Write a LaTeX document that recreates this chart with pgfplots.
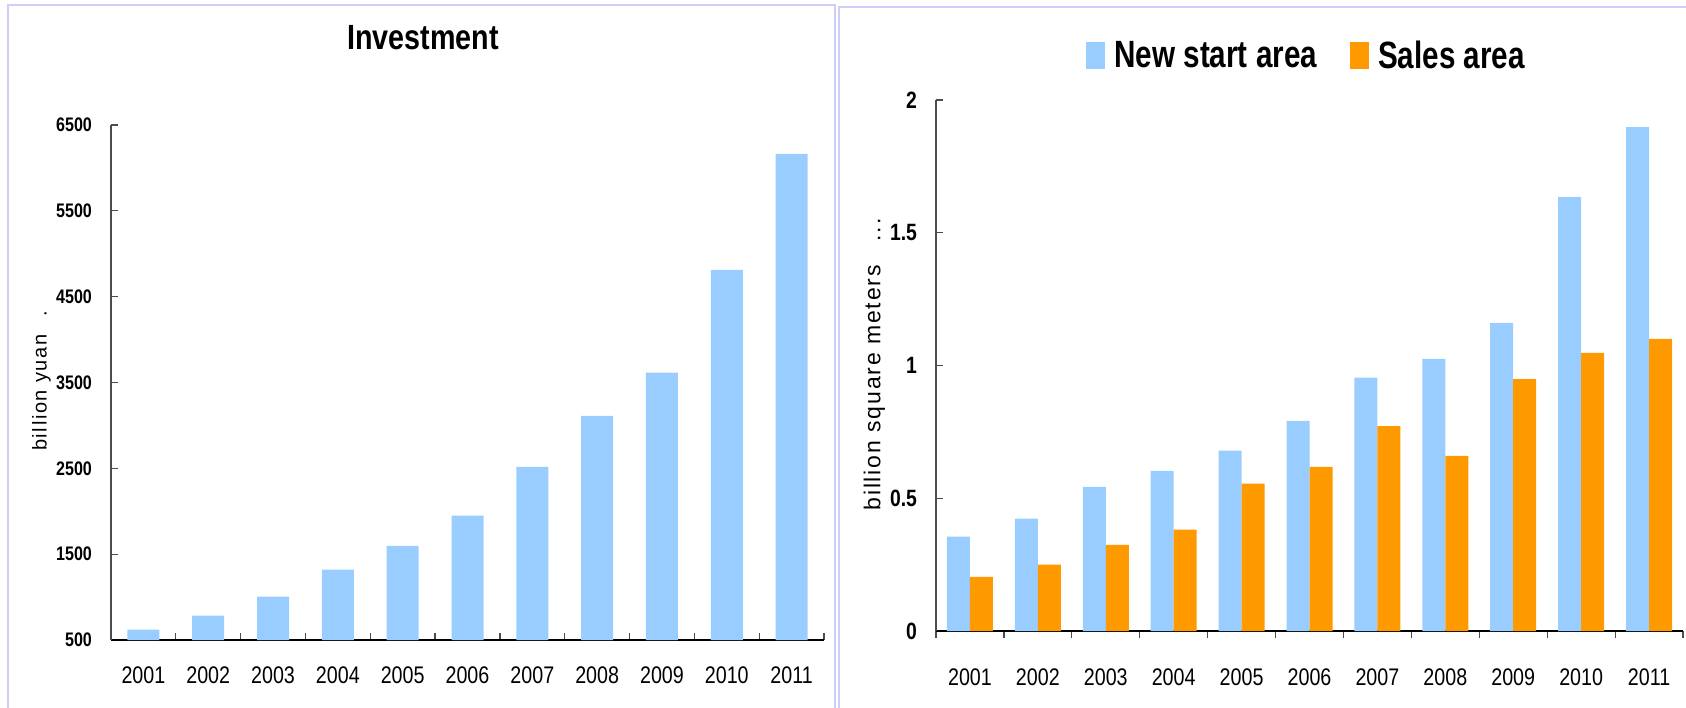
\documentclass[border=0pt]{standalone}
\usepackage{fontspec}
\setmainfont{Liberation Sans}
\newfontfamily\narrowfont[FakeStretch=0.82]{Liberation Sans}
\newfontfamily\legendfont[FakeStretch=0.78]{Liberation Sans}
\newfontfamily\spacedfont[LetterSpace=8]{Liberation Sans}
\usepackage{pgfplots}
\usepackage{pgfplotstable}
\pgfplotsset{compat=1.18}

\definecolor{newstart}{HTML}{99CCFF}
\definecolor{sales}{HTML}{FF9900}
\definecolor{panelframe}{RGB}{206,206,250}

% Real estate investment, billion yuan
\pgfplotstableread{
idx year invest
0  2001 621
1  2002 784
2  2003 1004
3  2004 1320
4  2005 1598
5  2006 1950
6  2007 2518
7  2008 3111
8  2009 3616
9  2010 4813
10 2011 6164
}\investment

% Floor space, billion square meters
\pgfplotstableread{
idx year newstart sales
0  2001 0.355 0.204
1  2002 0.423 0.250
2  2003 0.543 0.324
3  2004 0.603 0.382
4  2005 0.679 0.555
5  2006 0.791 0.618
6  2007 0.954 0.772
7  2008 1.025 0.660
8  2009 1.161 0.949
9  2010 1.635 1.048
10 2011 1.898 1.100
}\areas

\pgfplotsset{
  yearbars/.style={
    scale only axis,
    axis lines=left,
    axis line style={-},
    x axis line style={black, line width=1pt},
    y axis line style={black!70, line width=0.6pt},
    enlargelimits=false,
    xmin=-0.5, xmax=10.5,
    xtick={0,...,10},
    xticklabels={2001,2002,2003,2004,2005,2006,2007,2008,2009,2010,2011},
    every major x tick/.append style={draw=none},
    minor xtick={-0.5,0.5,...,10.5},
    every minor x tick/.append style={black!70, line width=0.6pt},
    every major y tick/.append style={black!70, line width=0.6pt},
    tick align=inside,
    major tick length=3.5pt,
    minor tick length=3.5pt,
    /pgf/number format/assume math mode=true,
    /pgf/number format/1000 sep={},
    xticklabel style={font=\narrowfont\fontsize{12}{14}\selectfont, anchor=center},
  }
}

\begin{document}
\begin{tikzpicture}
\path[use as bounding box] (0pt,0pt) rectangle (843pt,353.5pt);

% panel frames
\draw[panelframe, line width=1pt] (4pt,-5pt) -- (4pt,351pt) -- (417.5pt,351pt) -- (417.5pt,-5pt);
\draw[panelframe, line width=1pt] (419.5pt,-5pt) -- (419.5pt,350pt) -- (850pt,350pt);

% Investment
\begin{axis}[
  yearbars,
  at={(55.5pt,33.5pt)}, anchor=south west,
  width=356.5pt, height=257.5pt,
  ymin=500, ymax=6500,
  ytick={500,1500,...,6500},
  yticklabel style={font=\narrowfont\bfseries\fontsize{9.8}{11}\selectfont, anchor=east, xshift=-6pt},
  xticklabel style={yshift=-17.5pt},
  title={Investment},
  title style={font=\narrowfont\bfseries\fontsize{17.5}{20}\selectfont, at={(0.4376,1)}, anchor=base, yshift=32pt},
  ylabel={billion yuan\hspace{9pt}.},
  every axis y label/.style={at={(axis description cs:-0.0975,0.503)}, rotate=90, anchor=center,
    font=\spacedfont\fontsize{10}{12}\selectfont},
]
\addplot[ybar, bar width=16pt, fill=newstart, draw=none] table[x=idx, y=invest] {\investment};
\end{axis}

% New start and sales area
\begin{axis}[
  yearbars,
  at={(468pt,38pt)}, anchor=south west,
  width=373.5pt, height=265.5pt,
  ymin=0, ymax=2,
  ytick={0,0.5,1,1.5,2},
  yticklabel style={font=\narrowfont\bfseries\fontsize{11.8}{13}\selectfont, anchor=east, xshift=-6pt},
  xticklabel style={yshift=-19.5pt},
  ybar=0pt, bar width=11.5pt,
  ylabel={billion square meters\hspace{12pt}...},
  every axis y label/.style={at={(axis description cs:-0.0823,0.502)}, rotate=90, anchor=center,
    font=\spacedfont\fontsize{11.5}{13}\selectfont},
  legend columns=2,
  legend style={at={(0.2008,1.083)}, anchor=west, draw=none, fill=none,
    font=\legendfont\bfseries\fontsize{19}{21}\selectfont,
    inner sep=0pt,
    /tikz/every odd column/.append style={column sep=2.5pt},
    /tikz/every even column/.append style={column sep=14.5pt}},
]
\addplot[fill=newstart, draw=none,
  legend image code/.code={\fill[newstart] (0pt,-6.75pt) rectangle (9.5pt,6.75pt);}]
  table[x=idx, y=newstart] {\areas};
\addlegendentry{New start area}
\addplot[fill=sales, draw=none,
  legend image code/.code={\fill[sales] (0pt,-6.75pt) rectangle (9.5pt,6.75pt);}]
  table[x=idx, y=sales] {\areas};
\addlegendentry{Sales area}
\end{axis}
\end{tikzpicture}
\end{document}
